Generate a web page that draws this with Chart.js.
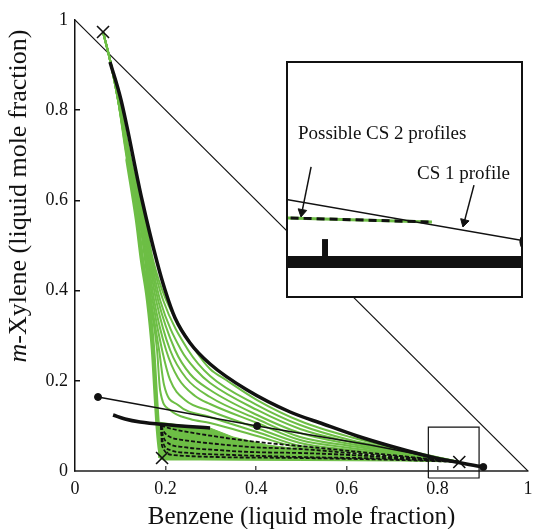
<!DOCTYPE html>
<html>
<head>
<meta charset="utf-8">
<script src="https://cdn.jsdelivr.net/npm/chart.js@4.4.1/dist/chart.umd.min.js"></script>
<style>
  body { margin: 0; background: #fff; overflow: hidden; }
  #wrap { position: relative; width: 533px; height: 529px; font-family: 'Liberation Serif', serif; color: #111; }
  #main { position: absolute; left: 0; top: 0; }
  #inset { position: absolute; left: 286px; top: 61px; width: 237px; height: 237px; box-sizing: border-box;
           border: 2px solid #111; background: #fff; }
  #inset canvas { display: block; }
  .axis-title { position: absolute; font-size: 25px; line-height: 28px; height: 28px; white-space: nowrap; text-align: center; }
  #xTitle { left: 75px; width: 453px; top: 502px; }
  #yTitle { left: -182px; top: 182px; width: 400px; transform: rotate(-90deg); font-size: 26px; }
</style>
</head>
<body>
<div id="wrap">
  <canvas id="main" width="533" height="529"></canvas>
  <div id="inset"><canvas id="insetCanvas" width="233" height="233"></canvas></div>
  <div class="axis-title" id="xTitle">Benzene (liquid mole fraction)</div>
  <div class="axis-title" id="yTitle"><i>m</i>-Xylene (liquid mole fraction)</div>
</div>
<script>
// axis ticks (mole fractions)
const axisTicks = [0, 0.2, 0.4, 0.6, 0.8, 1];

// mass balance line x_B + x_X = 1
const diagonal = [[0, 1], [1, 0]];

// pinch points (crosses) and profile end points (dots)
const pinchPoints = [[0.0619, 0.9734], [0.1922, 0.0288], [0.8483, 0.0200]];
const endPoints = [[0.0508, 0.1641], [0.4020, 0.0998], [0.9013, 0.0089]];

// CS 1 profile (thick) and the short CS 2 piece
const cs1Profile = [[0.0773, 0.9070], [0.1016, 0.8226], [0.1480, 0.6009], [0.1811, 0.4634], [0.1988, 0.4013],
  [0.2209, 0.3392], [0.2540, 0.2838], [0.2982, 0.2373], [0.3800, 0.1796], [0.4749, 0.1308], [0.5478, 0.1042],
  [0.6229, 0.0776], [0.6958, 0.0554], [0.7687, 0.0355], [0.8063, 0.0266], [0.9013, 0.0089]];
const cs2Piece = [[0.0840, 0.1242], [0.1105, 0.1153], [0.1436, 0.1086], [0.2099, 0.1020], [0.2982, 0.0953]];

// straight operating line through the end points
const operatingLine = [[0.0508, 0.1641], [0.4020, 0.0998], [0.6516, 0.0576], [0.9013, 0.0089]];

// green profile family
const green1 = [[0.0619, 0.9734], [0.0773, 0.9113], [0.0972, 0.8226], [0.1237, 0.6896], [0.1546, 0.5565], [0.1723, 0.4678],
  [0.2010, 0.3792], [0.2651, 0.2683], [0.2982, 0.2262], [0.3336, 0.2018], [0.4020, 0.1574], [0.4970, 0.1109],
  [0.6075, 0.0754], [0.7179, 0.0488], [0.8483, 0.0200]];
const green2 = [[0.0619, 0.9734], [0.0773, 0.9113], [0.0972, 0.8226], [0.1226, 0.6896], [0.1524, 0.5565], [0.1701, 0.4678],
  [0.1944, 0.3792], [0.2496, 0.2683], [0.2982, 0.2106], [0.4020, 0.1463], [0.4970, 0.1020], [0.6075, 0.0687],
  [0.7179, 0.0466], [0.8483, 0.0200]];
const green3 = [[0.0619, 0.9734], [0.0773, 0.9113], [0.0972, 0.8226], [0.1215, 0.6896], [0.1513, 0.5565], [0.1679, 0.4678],
  [0.1878, 0.3792], [0.2342, 0.2683], [0.2673, 0.2239], [0.2982, 0.1951], [0.4020, 0.1353], [0.4970, 0.0931],
  [0.6075, 0.0643], [0.7179, 0.0443], [0.8483, 0.0200]];
const green4 = [[0.0619, 0.9734], [0.0773, 0.9113], [0.0972, 0.8226], [0.1204, 0.6896], [0.1502, 0.5565], [0.1657, 0.4678],
  [0.1833, 0.3792], [0.2209, 0.2683], [0.2540, 0.2151], [0.2982, 0.1796], [0.4020, 0.1242], [0.4970, 0.0843],
  [0.6075, 0.0599], [0.7179, 0.0421], [0.8483, 0.0200]];
const green5 = [[0.0619, 0.9734], [0.0773, 0.9113], [0.0950, 0.8226], [0.1193, 0.6896], [0.1480, 0.5565], [0.1635, 0.4678],
  [0.1789, 0.3792], [0.2099, 0.2683], [0.2452, 0.2062], [0.2982, 0.1641], [0.4020, 0.1153], [0.4970, 0.0754],
  [0.6075, 0.0554], [0.7179, 0.0399], [0.8483, 0.0200]];
const green6 = [[0.0619, 0.9734], [0.0773, 0.9113], [0.0950, 0.8226], [0.1182, 0.6896], [0.1469, 0.5565], [0.1613, 0.4678],
  [0.1745, 0.3792], [0.2010, 0.2683], [0.2275, 0.2062], [0.2651, 0.1663], [0.2982, 0.1486], [0.4020, 0.1064],
  [0.4970, 0.0687], [0.6075, 0.0510], [0.7179, 0.0377], [0.8483, 0.0200]];
const green7 = [[0.0619, 0.9734], [0.0773, 0.9113], [0.0950, 0.8226], [0.1171, 0.6896], [0.1458, 0.5565], [0.1590, 0.4678],
  [0.1712, 0.3792], [0.1922, 0.2683], [0.2099, 0.2018], [0.2430, 0.1574], [0.2982, 0.1330], [0.4020, 0.0953],
  [0.4970, 0.0621], [0.6075, 0.0466], [0.7179, 0.0355], [0.8483, 0.0200]];
const green8 = [[0.0619, 0.9734], [0.0773, 0.9113], [0.0950, 0.8226], [0.1160, 0.6896], [0.1436, 0.5565], [0.1568, 0.4678],
  [0.1679, 0.3792], [0.1856, 0.2683], [0.1966, 0.1907], [0.2275, 0.1463], [0.2982, 0.1197], [0.4020, 0.0865],
  [0.4970, 0.0554], [0.6075, 0.0443], [0.7179, 0.0333], [0.8483, 0.0200]];
const green9 = [[0.0619, 0.9734], [0.0773, 0.9113], [0.0950, 0.8226], [0.1149, 0.6896], [0.1425, 0.5565], [0.1546, 0.4678],
  [0.1657, 0.3792], [0.1811, 0.2683], [0.1878, 0.1796], [0.2099, 0.1353], [0.2540, 0.1153], [0.2982, 0.1064],
  [0.4020, 0.0776], [0.4970, 0.0510], [0.6075, 0.0421], [0.7179, 0.0333], [0.8483, 0.0200]];
const greenProfiles = [green1, green2, green3, green4, green5, green6, green7, green8, green9];

// dense bundle along the benzene-lean edge
const greenBand = [[0.1160, 0.6896], [0.1370, 0.5565], [0.1480, 0.4678], [0.1613, 0.3792], [0.1723, 0.2683],
  [0.1789, 0.1574], [0.1833, 0.0909], [0.1878, 0.0466], [0.1922, 0.0310]];

// region swept by the CS 2 profiles
const greenRegion = [[0.1833, 0.1086], [0.2319, 0.1020], [0.2982, 0.0953], [0.3490, 0.0754], [0.4241, 0.0576],
  [0.4970, 0.0488], [0.6075, 0.0377], [0.7179, 0.0288], [0.8483, 0.0200], [0.7179, 0.0222], [0.4970, 0.0233],
  [0.2761, 0.0244], [0.1944, 0.0244], [0.1833, 0.0310]];

// possible CS 2 profiles (dashed)
const cs2a = [[0.1900, 0.0998], [0.2253, 0.0909], [0.2761, 0.0820], [0.3490, 0.0710], [0.4241, 0.0621],
  [0.4970, 0.0554], [0.6075, 0.0443], [0.7179, 0.0333], [0.8483, 0.0200]];
const cs2b = [[0.1900, 0.0998], [0.1966, 0.0865], [0.2099, 0.0754], [0.2386, 0.0687], [0.3137, 0.0599],
  [0.3866, 0.0532], [0.4970, 0.0488], [0.6075, 0.0399], [0.7179, 0.0310], [0.8483, 0.0200]];
const cs2c = [[0.1900, 0.0998], [0.1944, 0.0776], [0.2054, 0.0621], [0.2386, 0.0532], [0.3137, 0.0466],
  [0.3866, 0.0421], [0.4970, 0.0399], [0.6075, 0.0355], [0.7179, 0.0288], [0.8483, 0.0200]];
const cs2d = [[0.1900, 0.0998], [0.1933, 0.0665], [0.2099, 0.0466], [0.2540, 0.0399], [0.3490, 0.0355],
  [0.4970, 0.0310], [0.7179, 0.0266], [0.8483, 0.0200]];
const cs2e = [[0.1900, 0.0998], [0.1922, 0.0554], [0.2165, 0.0355], [0.3137, 0.0310], [0.4970, 0.0288],
  [0.7179, 0.0244], [0.8483, 0.0200]];
const dashedProfiles = [cs2a, cs2b, cs2c, cs2d, cs2e];

// zoomed window near the benzene-rich pinch
const zoomX = [0.78, 0.892];
const zoomY = [-0.0155, 0.0975];
const zoomBox = [[zoomX[0], zoomY[0]], [zoomX[1], zoomY[0]], [zoomX[1], zoomY[1]], [zoomX[0], zoomY[1]], [zoomX[0], zoomY[0]]];

// inset contents (same units as the zoomed window)
const insetCs1 = [[0.775, 0.0320], [0.8965, 0.0108]];
const insetCs2 = [[0.775, 0.0225], [0.8492, 0.0204]];
const insetBase = [[0.77, 0.0010], [0.90, 0.0010]];
const insetStub = [[0.7978, 0.0039], [0.7978, 0.0121]];
const insetEnd = [[0.8965, 0.0108]];
const arrowCs2 = [[0.7911, 0.0471], [0.7867, 0.0252]];
const arrowCs1 = [[0.8694, 0.0383], [0.8647, 0.0203]];
const arrowTips = [[0.7867, 0.0252], [0.8647, 0.0203]];
const arrowAngles = [191, 195];
const noteText = ['Possible CS 2 profiles', 'CS 1 profile'];
const noteX = [0.7848, 0.8420];
const noteY = [0.0606, 0.0412];

Chart.defaults.font.family = "'Liberation Serif', 'DejaVu Serif', serif";
Chart.defaults.color = '#111';

const INK = '#111';
const GREEN = '#6dbe45';

// smooth curve dataset
function curve(data, color, width, order, extra) {
    return Object.assign({
        data: data,
        borderColor: color,
        borderWidth: width,
        pointRadius: 0,
        fill: false,
        cubicInterpolationMode: 'monotone',
        order: order
    }, extra || {});
}

// straight polyline dataset
function straight(data, color, width, order, extra) {
    return curve(data, color, width, order, Object.assign({ cubicInterpolationMode: 'default', tension: 0 }, extra || {}));
}

// hide the tick marks at the corners of the triangle
const tickColor = c => ctx => (ctx.tick && (ctx.tick.value === 0 || ctx.tick.value === 1)) ? 'rgba(0,0,0,0)' : c;

const tickFont = { family: "'Liberation Serif', serif", size: 18 };

const mainChart = new Chart(document.getElementById('main'), {
    type: 'line',
    data: {
        datasets: [
            straight(diagonal, INK, 1.2, 6),
            straight(greenRegion, GREEN, 1, 5, { fill: 'shape', backgroundColor: GREEN }),
            curve(greenBand, GREEN, 4.5, 4, { borderCapStyle: 'round' }),
            ...greenProfiles.map(d => curve(d, GREEN, 2, 4)),
            ...dashedProfiles.map(d => curve(d, INK, 1.8, 3, { borderDash: [4, 2] })),
            straight(operatingLine, INK, 1.5, 2),
            curve(cs1Profile, INK, 3.5, 1),
            curve(cs2Piece, INK, 3.5, 1),
            straight(zoomBox, INK, 1.2, 0, { clip: false }),
            {
                data: endPoints, showLine: false, order: 0,
                pointStyle: 'circle', pointRadius: 3.5,
                pointBackgroundColor: INK, pointBorderColor: INK, pointBorderWidth: 1
            },
            {
                data: pinchPoints, showLine: false, order: 0,
                pointStyle: 'crossRot', pointRadius: 8.5,
                pointBorderColor: INK, pointBorderWidth: 1.6
            }
        ]
    },
    options: {
        responsive: false,
        animation: false,
        events: [],
        layout: { autoPadding: false, padding: { top: 20, right: 5, left: 0, bottom: 0 } },
        plugins: { legend: { display: false }, tooltip: { enabled: false } },
        scales: {
            x: {
                type: 'linear', min: 0, max: 1,
                afterFit: s => { s.height = 58; s.paddingLeft = 0; s.paddingRight = 0; },
                afterBuildTicks: s => { s.ticks = axisTicks.map(v => ({ value: v })); },
                border: { color: '#555', width: 2 },
                grid: { drawOnChartArea: false, tickLength: -5, lineWidth: 1.5, color: tickColor('#555') },
                ticks: { padding: 12, color: INK, font: tickFont, maxRotation: 0, autoSkip: false,
                         callback: v => String(+v.toFixed(1)) }
            },
            y: {
                type: 'linear', min: 0, max: 1,
                afterFit: s => { s.width = 75; s.paddingTop = 0; s.paddingBottom = 0; },
                afterBuildTicks: s => { s.ticks = axisTicks.map(v => ({ value: v })); },
                border: { color: INK, width: 1.5 },
                grid: { drawOnChartArea: false, tickLength: -5, lineWidth: 1.5, color: tickColor(INK) },
                ticks: { padding: 12, color: INK, font: tickFont, autoSkip: false,
                         callback: v => String(+v.toFixed(1)) }
            }
        }
    }
});

// annotation text inside the inset, placed in data units
const insetNotes = {
    id: 'insetNotes',
    afterDatasetsDraw(chart) {
        const { ctx, scales: { x, y } } = chart;
        ctx.save();
        ctx.font = "19px 'Liberation Serif', serif";
        ctx.fillStyle = INK;
        ctx.textBaseline = 'alphabetic';
        noteText.forEach((t, i) => ctx.fillText(t, x.getPixelForValue(noteX[i]), y.getPixelForValue(noteY[i])));
        ctx.restore();
    }
};

const insetChart = new Chart(document.getElementById('insetCanvas'), {
    type: 'line',
    data: {
        datasets: [
            straight(insetBase, INK, 12, 3, { borderCapStyle: 'butt' }),
            straight(insetStub, INK, 6, 3, { borderCapStyle: 'butt' }),
            straight(insetCs2, GREEN, 3, 2),
            straight(insetCs2, INK, 3, 1, { borderDash: [8, 5] }),
            straight(insetCs1, INK, 1.5, 1),
            straight(arrowCs2, INK, 1.5, 1),
            straight(arrowCs1, INK, 1.5, 1),
            {
                data: arrowTips, showLine: false, order: 0,
                pointStyle: 'triangle', pointRadius: 5, pointRotation: arrowAngles,
                pointBackgroundColor: INK, pointBorderColor: INK, pointBorderWidth: 1
            },
            {
                data: insetEnd, showLine: false, order: 0,
                pointStyle: 'circle', pointRadius: 10.5,
                pointBackgroundColor: INK, pointBorderColor: INK
            }
        ]
    },
    options: {
        responsive: false,
        animation: false,
        events: [],
        layout: { autoPadding: false, padding: 0 },
        plugins: { legend: { display: false }, tooltip: { enabled: false } },
        scales: {
            x: { type: 'linear', display: false, min: zoomX[0], max: zoomX[1] },
            y: { type: 'linear', display: false, min: zoomY[0], max: zoomY[1] }
        }
    },
    plugins: [insetNotes]
});
</script>
</body>
</html>
